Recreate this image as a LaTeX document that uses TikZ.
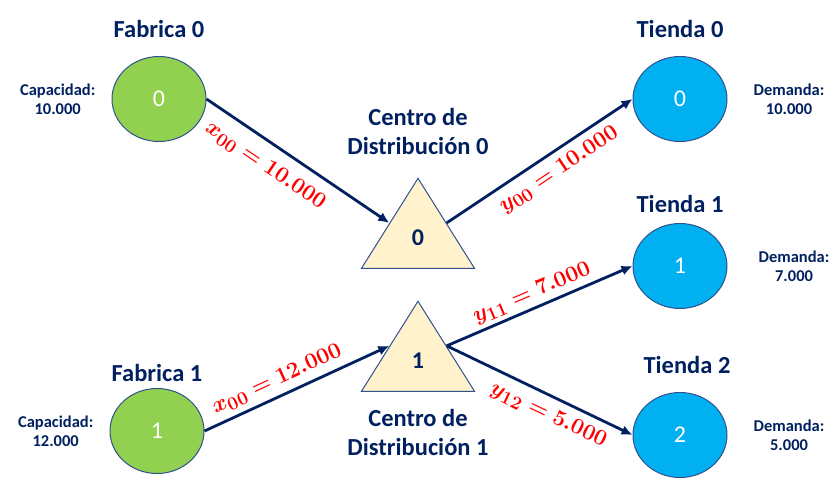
\documentclass[tikz,border=0pt]{standalone}
\usepackage[no-math]{fontspec}
\setmainfont{Carlito}
\usetikzlibrary{arrows.meta, positioning, shapes.geometric}
\definecolor{azul}{HTML}{002060}
\definecolor{borde}{HTML}{2F528F}
\definecolor{verde}{HTML}{92D050}
\definecolor{celeste}{HTML}{00B0F0}
\definecolor{crema}{HTML}{FFF2CC}

\begin{document}
\begin{tikzpicture}[
    x=1pt, y=-1pt,
    fabrica/.style={ellipse, draw=borde, fill=verde, line width=1pt,
      minimum width=94pt, minimum height=85pt, inner sep=0pt,
      text=white, font=\fontsize{24}{28}\selectfont},
    tienda/.style={fabrica, fill=celeste},
    centro/.style={isosceles triangle, isosceles triangle stretches,
      shape border rotate=90, draw=borde, fill=crema, line width=1pt,
      minimum width=113pt, minimum height=90pt, inner sep=0pt,
      text=azul, font=\bfseries\fontsize{24}{28}\selectfont},
    titulo/.style={text=azul, font=\bfseries\fontsize{24.5}{29}\selectfont,
      inner sep=0pt, align=center},
    dato/.style={text=azul, font=\bfseries\fontsize{16.5}{19}\selectfont,
      inner sep=0pt, align=center},
    flujo/.style={draw=azul, line width=2.8pt, -{Latex[length=11pt, width=10pt]}},
    cantidad/.style={text=red, font=\fontsize{24.88}{28}\selectfont\boldmath,
      sloped, inner sep=2pt, scale=0.9, transform shape},
  ]
  \useasboundingbox (0,0) rectangle (835,489);

  \node[fabrica] (f0) at (159,99) {0};
  \node[fabrica] (f1) at (157,431) {1};
  \node[centro] (c0) at (418,238) {0};
  \node[centro] (c1) at (418,361) {1};
  \node[tienda] (t0) at (680,99) {0};
  \node[tienda] (t1) at (680,266) {1};
  \node[tienda] (t2) at (680,435) {2};

  \node[titulo, above=18pt of f0] (tf0) {Fabrica 0};
  \node[titulo, above=6pt of f1] (tf1) {Fabrica 1};
  \node[titulo, above=22pt of c0] (tc0) {Centro de\\Distribución 0};
  \node[titulo, below=17pt of c1] (tc1) {Centro de\\Distribución 1};
  \node[titulo, above=18pt of t0] (tt0) {Tienda 0};
  \node[titulo, above=10pt of t1] (tt1) {Tienda 1};
  \node[titulo, above=18pt of t2, xshift=7pt] (tt2) {Tienda 2};

  \node[dato, left=16pt of f0] (cap0) {Capacidad:\\10.000};
  \node[dato, left=16pt of f1] (cap1) {Capacidad:\\12.000};
  \node[dato, right=26pt of t0] (dem0) {Demanda:\\10.000};
  \node[dato, right=31pt of t1] (dem1) {Demanda:\\7.000};
  \node[dato, right=26pt of t2] (dem2) {Demanda:\\5.000};

  \draw[flujo] (f0.east) -- node[cantidad, below=10pt, pos=0.39] {$x_{00} = 10.000$} (c0.left side);
  \draw[flujo] (c0.right side) -- node[cantidad, below=6pt, pos=0.55] {$y_{00} = 10.000$} (t0.west);
  \draw[flujo] (f1.east) -- node[cantidad, above=4pt, pos=0.43] {$x_{00} = 12.000$} (c1.left side);
  \draw[flujo] (c1.right side) -- node[cantidad, above=2pt, pos=0.49] {$y_{11} = 7.000$} (t1.west);
  \draw[flujo] (c1.right side) -- node[cantidad, below=6pt, pos=0.59] {$y_{12} = 5.000$} (t2.west);
\end{tikzpicture}
\end{document}
